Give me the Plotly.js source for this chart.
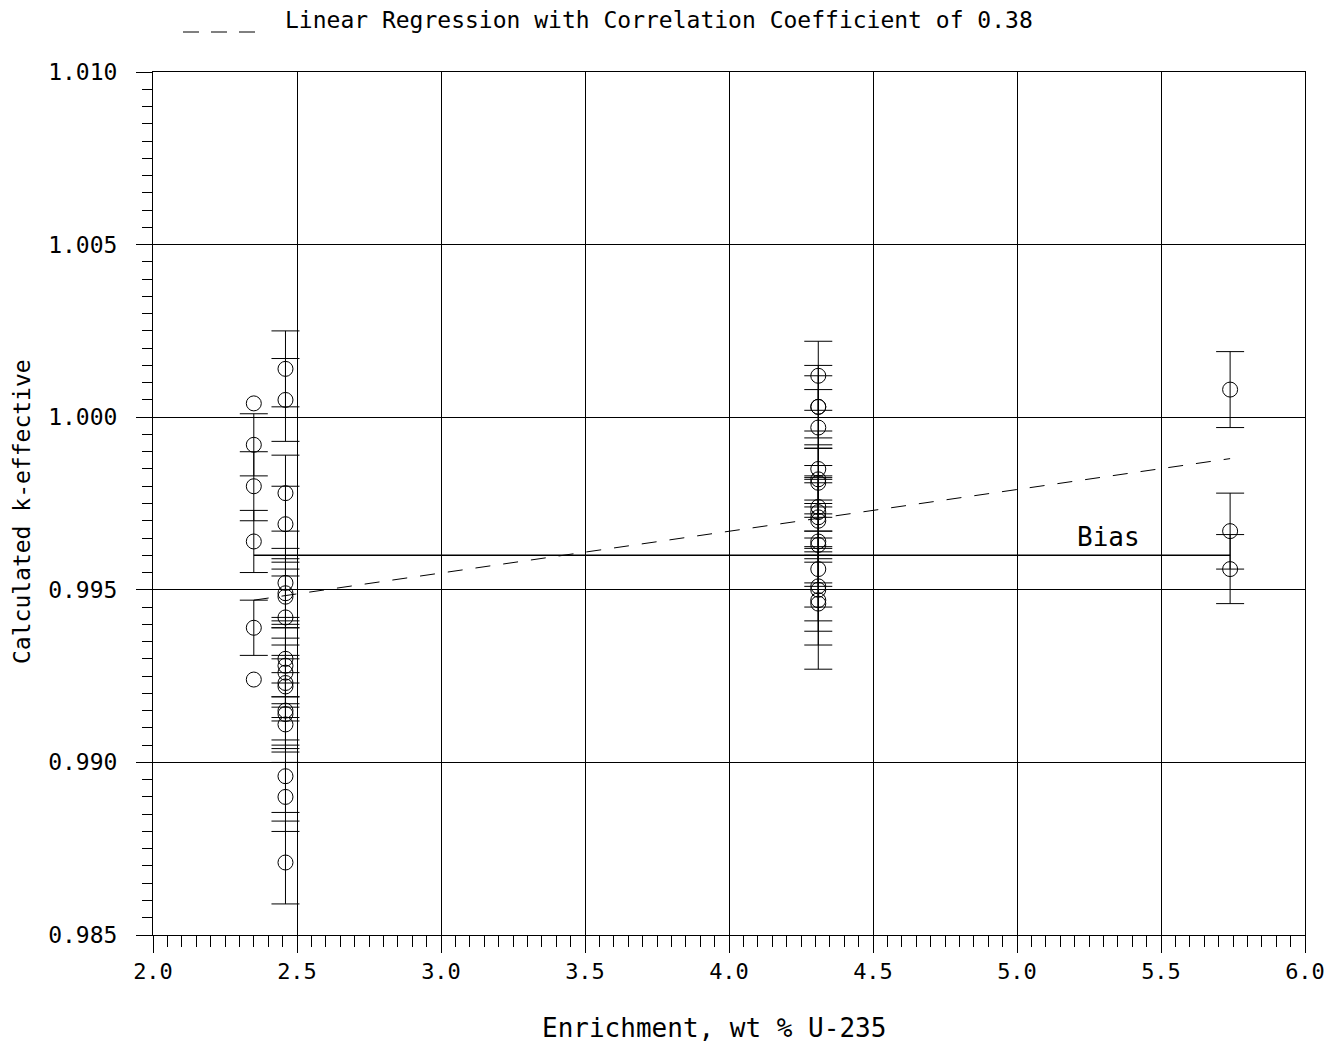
<!DOCTYPE html>
<html>
<head>
<meta charset="utf-8">
<script src="https://cdn.plot.ly/plotly-3.0.1.min.js"></script>
<style>html,body{margin:0;padding:0;background:#fff;}</style>
</head>
<body>
<div id="chart" style="width:1338px;height:1044px;"></div>
<script>
// Enrichment (wt % U-235) of each experiment group
const groupEnrichment = [2.35, 2.46, 4.31, 5.74];

// Group at 2.35 wt% : k-eff with 1-sigma uncertainty
const g1K   = [0.9992, 0.9980, 0.9964, 0.9939];
const g1Sig = [0.0009, 0.0010, 0.0009, 0.0008];
// Group at 2.35 wt% : points drawn without uncertainty bars
const g1KNoBar = [1.0004, 0.9924];

// Group at 2.46 wt%
const g2K   = [1.0014, 1.0005, 0.9978, 0.9969, 0.9952, 0.9949, 0.9948, 0.9942, 0.9930, 0.9928,
               0.9926, 0.9923, 0.9922, 0.9915, 0.9914, 0.9911, 0.9896, 0.9890, 0.9871];
const g2Sig = [0.0011, 0.0012, 0.0011, 0.0011, 0.0010, 0.0010, 0.0008, 0.0012, 0.0011, 0.0011,
               0.0010, 0.0011, 0.0009, 0.0011, 0.0009, 0.0008, 0.00105, 0.0010, 0.0012];

// Group at 4.31 wt%
const g3K   = [1.0012, 1.0003, 1.0003, 0.9997, 0.9985, 0.9982, 0.9981, 0.9974, 0.99725, 0.9971,
               0.9970, 0.9964, 0.9963, 0.9956, 0.9951, 0.9950, 0.9947, 0.9946];
const g3Sig = [0.0010, 0.0009, 0.0012, 0.0011, 0.0011, 0.0010, 0.0010, 0.0007, 0.0010, 0.0012,
               0.0012, 0.0012, 0.0012, 0.0011, 0.0010, 0.0012, 0.0013, 0.0019];

// Group at 5.74 wt%
const g4K   = [1.0008, 0.9967, 0.9956];
const g4Sig = [0.0011, 0.0011, 0.0010];

// Bias (average) and linear regression end points
const biasX = [2.35, 5.74];
const biasK = [0.9960, 0.9960];
const regX  = [2.35, 5.74];
const regK  = [0.9947, 0.9988];

// Axis ticks
const xTickVals = [2.0, 2.5, 3.0, 3.5, 4.0, 4.5, 5.0, 5.5, 6.0];
const yTickVals = [0.985, 0.990, 0.995, 1.000, 1.005, 1.010];

const FONT = "DejaVu Sans Mono, monospace";

function rep(v, n) { return Array.from({length: n}, () => v); }

const markerStyle = {symbol: 'circle-open', size: 15, color: 'black', line: {width: 1, color: 'black'}};
function errTrace(xv, ys, sig) {
  return {
    x: rep(xv, ys.length), y: ys, type: 'scatter', mode: 'markers',
    marker: markerStyle, showlegend: false, hoverinfo: 'x+y',
    error_y: {type: 'data', array: sig, visible: true, color: 'black', thickness: 1, width: 14}
  };
}

const traces = [
  {x: biasX, y: biasK, type: 'scatter', mode: 'lines', line: {color: 'black', width: 1.6}, showlegend: false, hoverinfo: 'skip'},
  {x: regX, y: regK, type: 'scatter', mode: 'lines', line: {color: 'black', width: 1, dash: '15px,13px'},
   name: 'Linear Regression with Correlation Coefficient of 0.38', showlegend: false, hoverinfo: 'skip'},
  errTrace(groupEnrichment[0], g1K, g1Sig),
  {x: rep(groupEnrichment[0], g1KNoBar.length), y: g1KNoBar, type: 'scatter', mode: 'markers', marker: markerStyle, showlegend: false},
  errTrace(groupEnrichment[1], g2K, g2Sig),
  errTrace(groupEnrichment[2], g3K, g3Sig),
  errTrace(groupEnrichment[3], g4K, g4Sig)
];

const L = 153, R = 1305, T = 72, B = 935;
const W = R - L, H = B - T;
const px = v => (v - L) / W;
const py = v => (B - v) / H;

const axisCommon = {
  showline: true, linecolor: 'black', linewidth: 1, mirror: true,
  showgrid: true, gridcolor: 'black', gridwidth: 1, zeroline: false,
  ticks: 'outside', tickcolor: 'black', tickwidth: 1
};

const layout = {
  width: 1338, height: 1044,
  margin: {l: L, r: 1338 - R, t: T, b: 1044 - B, pad: 0},
  paper_bgcolor: 'white', plot_bgcolor: 'white',
  showlegend: false,
  xaxis: Object.assign({}, axisCommon, {
    range: [2.0, 6.0], tickmode: 'array', tickvals: xTickVals,
    ticktext: xTickVals.map(v => v.toFixed(1)), ticklen: 17,
    tickfont: {family: FONT, size: 22, color: 'black'},
    minor: {dtick: 0.05, tick0: 2.0, ticks: 'outside', ticklen: 11, tickcolor: 'black', showgrid: false}
  }),
  yaxis: Object.assign({}, axisCommon, {
    range: [0.985, 1.010], tickmode: 'array', tickvals: yTickVals,
    ticktext: yTickVals.map(v => v.toFixed(3)), ticklen: 16, ticklabelstandoff: 14,
    tickfont: {family: FONT, size: 23, color: 'black'},
    minor: {dtick: 0.0005, tick0: 0.985, ticks: 'outside', ticklen: 10, tickcolor: 'black', showgrid: false}
  }),
  shapes: [
    {type: 'line', xref: 'paper', yref: 'paper', x0: px(183), x1: px(256), y0: py(32), y1: py(32),
     line: {color: 'black', width: 1, dash: '16px,12px'}}
  ],
  annotations: [
    {text: 'Linear Regression with Correlation Coefficient of 0.38', xref: 'paper', yref: 'paper',
     x: px(283), y: py(20), xanchor: 'left', yanchor: 'middle', showarrow: false,
     font: {family: FONT, size: 23, color: 'black'}},
    {text: 'Bias', xref: 'x', yref: 'y', x: 5.316, y: 0.99653, xanchor: 'center', yanchor: 'middle',
     showarrow: false, font: {family: FONT, size: 26, color: 'black'}},
    {text: 'Enrichment, wt % U-235', xref: 'paper', yref: 'paper', x: px(714), y: py(1028),
     xanchor: 'center', yanchor: 'middle', showarrow: false, font: {family: FONT, size: 26, color: 'black'}},
    {text: 'Calculated k-effective', xref: 'paper', yref: 'paper', x: px(22), y: py(512),
     xanchor: 'center', yanchor: 'middle', textangle: -90, showarrow: false,
     font: {family: FONT, size: 23, color: 'black'}}
  ]
};

Plotly.newPlot('chart', traces, layout, {displayModeBar: false, staticPlot: true});
</script>
</body>
</html>
